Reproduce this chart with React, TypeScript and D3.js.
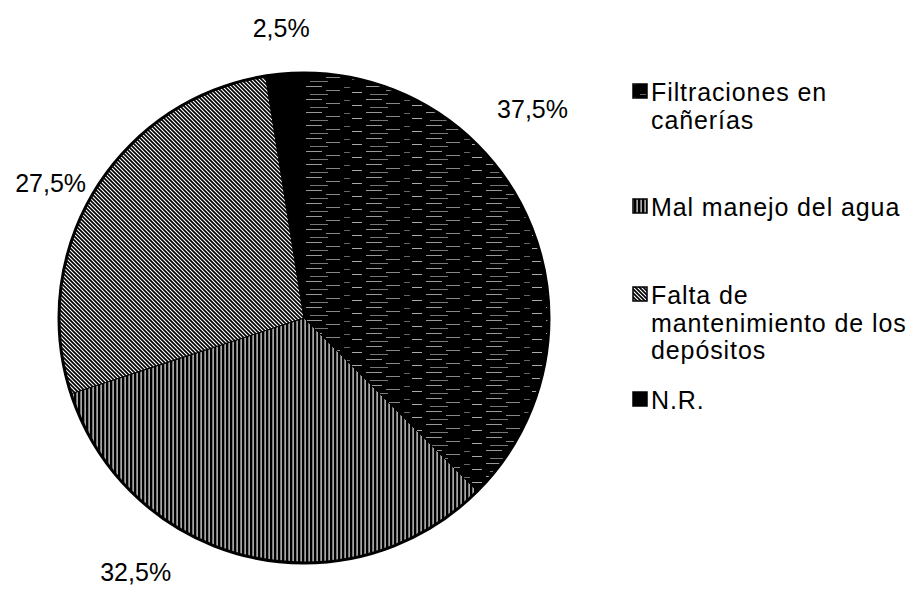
import React from "react";
import * as d3 from "d3";

const categories = [
  ["Filtraciones en", "cañerías"],
  ["Mal manejo del agua"],
  ["Falta de", "mantenimiento de los", "depósitos"],
  ["N.R."],
];
const values = [37.5, 32.5, 27.5, 2.5];
const valueLabels = ["37,5%", "32,5%", "27,5%", "2,5%"];
const labelAngleShift = [-20, 20, -3.5, 0];
const labelRadiusExtra = [65, 60, 42, 46];
const legendRows = [92, 207, 295, 400];

const W = 914;
const H = 589;
const cx = 304;
const cy = 318;
const R = 245;
const patternIds = ["pFil", "pMal", "pFal", "pNR"];

export default function App() {
  const pie = d3.pie<number>().sort(null).value((d) => d);
  const arcs = pie(values);
  const arcGen = d3.arc<d3.PieArcDatum<number>>().innerRadius(0).outerRadius(R);
  const font = "'Liberation Sans', Arial, sans-serif";

  return (
    <svg width={W} height={H} style={{ position: "absolute", left: 0, top: 0, background: "#fff" }}>
      <defs>
        <pattern id="pFil" width={60} height={13} patternUnits="userSpaceOnUse">
          <rect width={60} height={13} fill="#000" />
          <rect x={2} y={2} width={16} height={1} fill="#999" />
          <rect x={40} y={3} width={6} height={1} fill="#666" />
          <rect x={22} y={6} width={14} height={1} fill="#888" />
          <rect x={48} y={8} width={10} height={1} fill="#aaa" />
          <rect x={6} y={10} width={18} height={1} fill="#777" />
        </pattern>
        <pattern id="pMal" width={4} height={4} patternUnits="userSpaceOnUse">
          <rect width={4} height={4} fill="#000" />
          <rect x={0.5} y={0} width={1.2} height={4} fill="#eee" />
        </pattern>
        <pattern id="pFal" width={4} height={4} patternUnits="userSpaceOnUse">
          <rect width={4} height={4} fill="#fff" />
          <path d="M-1,-1 L5,5 M-1,3 L1,5 M3,-1 L5,1" stroke="#000" strokeWidth={1.7} />
        </pattern>
        <pattern id="pNR" width={4} height={4} patternUnits="userSpaceOnUse">
          <rect width={4} height={4} fill="#000" />
        </pattern>
      </defs>

      <g transform={`translate(${cx},${cy})`}>
        {arcs.map((a, i) => (
          <path key={i} d={arcGen(a) || ""} fill={`url(#${patternIds[i]})`} stroke="#000" strokeWidth={1} />
        ))}
        <circle r={R} fill="none" stroke="#000" strokeWidth={3} />
        {arcs.map((a, i) => {
          const mid = (a.startAngle + a.endAngle) / 2 + (labelAngleShift[i] * Math.PI) / 180;
          const lr = R + labelRadiusExtra[i];
          const x = lr * Math.sin(mid);
          const y = -lr * Math.cos(mid);
          return (
            <text
              key={i}
              x={x}
              y={y}
              textAnchor="middle"
              dominantBaseline="central"
              fontFamily={font}
              fontSize={25}
              fill="#000"
            >
              {valueLabels[i]}
            </text>
          );
        })}
      </g>

      <g>
        {categories.map((lines, i) => (
          <g key={i}>
            <rect x={633} y={legendRows[i] - 8} width={14} height={14} fill={`url(#${patternIds[i]})`} stroke="#000" strokeWidth={1.5} />
            {lines.map((ln, j) => (
              <text
                key={j}
                x={651}
                y={legendRows[i] + j * 27.5}
                dominantBaseline="central"
                fontFamily={font}
                fontSize={25}
                letterSpacing={0.9}
                fill="#000"
              >
                {ln}
              </text>
            ))}
          </g>
        ))}
      </g>
    </svg>
  );
}
